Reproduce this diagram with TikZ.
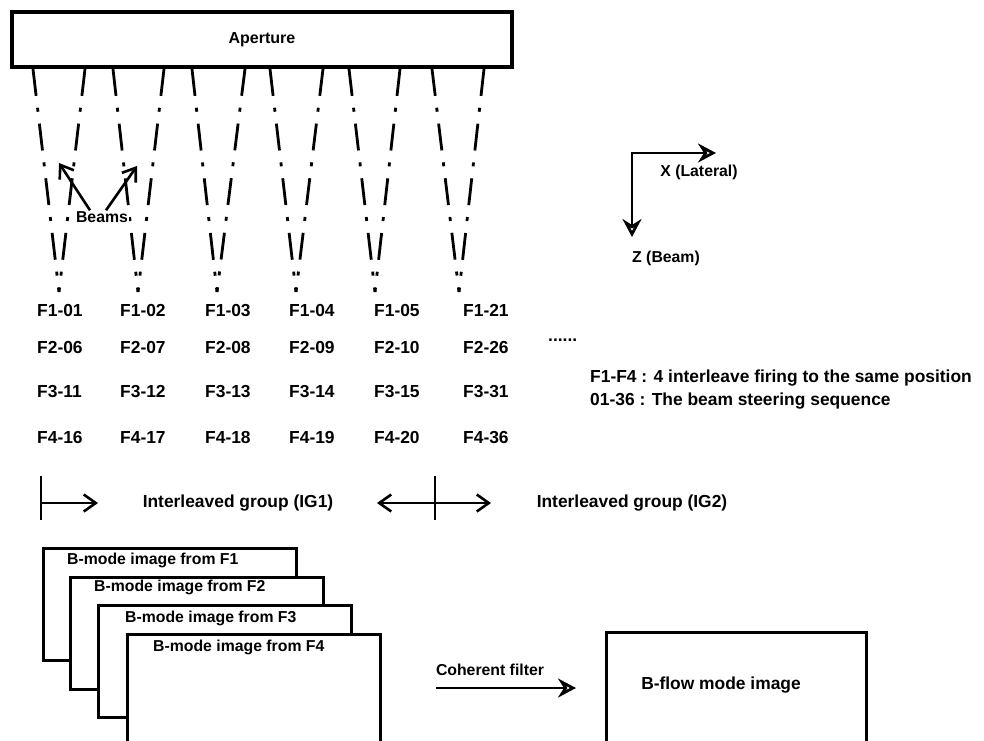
\documentclass[tikz,border=0pt]{standalone}
\usepackage{fontspec}
\setmainfont{Liberation Sans}
\usetikzlibrary{arrows.meta, positioning, calc}

\begin{document}
\begin{tikzpicture}[
    x=1pt, y=-1pt,
    bigtext/.style={font=\fontsize{17.4}{20}\selectfont\bfseries, inner sep=0pt},
    smalltext/.style={font=\fontsize{15.8}{18}\selectfont\bfseries, inner sep=0pt},
    framebox/.style={draw, line width=3.2pt, fill=white, inner sep=0pt},
    beamline/.style={line width=2.8pt, dash pattern=on 27pt off 12pt on 4pt off 12pt},
    barb/.style={-{Straight Barb[length=12pt,width=17pt]}, line width=2.6pt},
    openhead/.style={-{Stealth[open,length=18pt,width=19pt,inset=6pt]}, line width=2.8pt},
    tick/.style={line width=2.6pt}
]
\useasboundingbox (0,0) rectangle (984,740);

% Aperture and beams
\node[framebox, font=\fontsize{16}{18}\selectfont\bfseries, minimum width=500pt, minimum height=55pt] (aperture) at (262,39.5) {Aperture};

\foreach \i/\l/\r/\a in {1/33/85/59, 2/113/164/138, 3/192/245/217, 4/270/323/296, 5/349/400/375, 6/432/484/459} {
  \coordinate (bl\i) at (\l,69);
  \coordinate (br\i) at (\r,69);
  \coordinate (ap\i) at (\a,292);
  \draw[beamline] (bl\i) -- (ap\i);
  \draw[beamline] (br\i) -- (ap\i);
}

\node[smalltext, fill=white, inner sep=1pt] (beams) at (102,217) {Beams};
\coordinate (tipA) at (59,163);
\coordinate (tipB) at (137,166);
\draw[barb] ([xshift=-12pt]beams.north) -- (tipA);
\draw[barb] ([xshift=4pt]beams.north) -- (tipB);

% Axes
\coordinate (axo) at (632,153);
\coordinate (axx) at (716,153);
\coordinate (axz) at (632,237);
\draw[line width=2.8pt, {Stealth[open,length=18pt,width=19pt,inset=6pt]}-{Stealth[open,length=18pt,width=19pt,inset=6pt]}] (axx) -- (axo) -- (axz);
\node[smalltext] (xlab) at (699,172) {X (Lateral)};
\node[smalltext] (zlab) at (666,258) {Z (Beam)};

% Firing sequence
\foreach \c/\xx/\ra/\rb/\rc/\rd in {1/37/01/06/11/16, 2/120/02/07/12/17, 3/205/03/08/13/18, 4/289/04/09/14/19, 5/374/05/10/15/20, 6/463/21/26/31/36} {
  \node[bigtext, anchor=base west] (fa\c) at (\xx,316) {F1-\ra};
  \node[bigtext, anchor=base west] (fb\c) at (\xx,353) {F2-\rb};
  \node[bigtext, anchor=base west] (fc\c) at (\xx,397) {F3-\rc};
  \node[bigtext, anchor=base west] (fd\c) at (\xx,443) {F4-\rd};
}
\node[bigtext, anchor=base west] (more) at (548,341) {......};

\node[bigtext, anchor=base west] (legf) at (590,382) {F1-F4 : 4 interleave firing to the same position};
\node[bigtext, anchor=base west] (legs) at (590,405) {01-36 : The beam steering sequence};

% Interleaved groups
\coordinate (igA) at (41,503);
\coordinate (igAtop) at (41,476);
\coordinate (igAbot) at (41,520);
\coordinate (igAend) at (98,503);
\draw[tick] (igAtop) -- (igAbot);
\draw[barb] (igA) -- (igAend);
\node[bigtext] (ig1) at (238,503) {Interleaved group (IG1)};

\coordinate (igB) at (435,503);
\coordinate (igBtop) at (435,476);
\coordinate (igBbot) at (435,520);
\coordinate (igBleft) at (377,503);
\coordinate (igBright) at (491,503);
\draw[tick] (igBtop) -- (igBbot);
\draw[barb] (igB) -- (igBleft);
\draw[barb] (igB) -- (igBright);
\node[bigtext] (ig2) at (632,503) {Interleaved group (IG2)};

% B-mode images
\foreach \i/\x/\y/\dx/\dy in {1/42/547/25/13, 2/69/576/25/11, 3/97/604/28/14, 4/126/633/27/14} {
  \node[framebox, minimum width=253pt, minimum height=112pt, anchor=north west] (bm\i) at (\x,\y) {};
  \node[smalltext, anchor=west] (bmt\i) at ([xshift=\dx pt, yshift=-\dy pt]bm\i.north west) {B-mode image from F\i};
}

% Coherent filter
\coordinate (cfA) at (436,688);
\coordinate (cfB) at (576,688);
\draw[openhead] (cfA) -- (cfB);
\node[smalltext] (cft) at (490,670) {Coherent filter};

\node[framebox, minimum width=260pt, minimum height=130pt, anchor=north west] (bflow) at (605,631) {};
\node[bigtext] (bflowt) at (721,685) {B-flow mode image};

\end{tikzpicture}
\end{document}
